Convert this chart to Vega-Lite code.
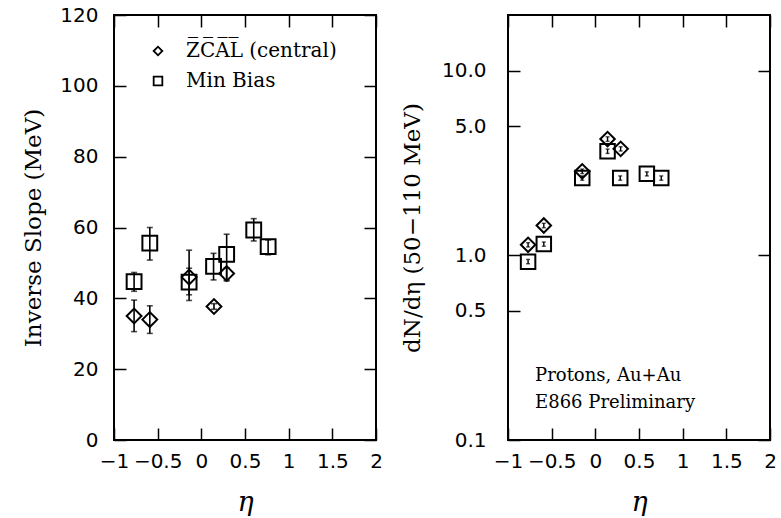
{
  "$schema": "https://vega.github.io/schema/vega-lite/v6.json",
  "background": "white",
  "padding": {"left": 21, "top": 4, "right": 0, "bottom": 0},
  "spacing": 16,
  "datasets": {
    "slope": [
      {"eta": -0.77, "val": 35.0, "lo": 30.6, "hi": 39.5, "series": "ZCAL"},
      {"eta": -0.59, "val": 34.0, "lo": 30.1, "hi": 37.9, "series": "ZCAL"},
      {"eta": -0.14, "val": 46.0, "lo": 39.4, "hi": 53.6, "series": "ZCAL"},
      {"eta": 0.145, "val": 37.7, "lo": 36.9, "hi": 38.5, "series": "ZCAL"},
      {"eta": 0.29, "val": 47.0, "lo": 45.2, "hi": 48.6, "series": "ZCAL"},
      {"eta": -0.77, "val": 44.7, "lo": 42.0, "hi": 47.3, "series": "Min Bias"},
      {"eta": -0.59, "val": 55.6, "lo": 50.8, "hi": 60.0, "series": "Min Bias"},
      {"eta": -0.14, "val": 44.6, "lo": 41.0, "hi": 48.5, "series": "Min Bias"},
      {"eta": 0.14, "val": 49.0, "lo": 45.2, "hi": 52.7, "series": "Min Bias"},
      {"eta": 0.29, "val": 52.4, "lo": 44.9, "hi": 58.1, "series": "Min Bias"},
      {"eta": 0.6, "val": 59.3, "lo": 56.2, "hi": 62.5, "series": "Min Bias"},
      {"eta": 0.765, "val": 54.6, "lo": 52.3, "hi": 56.5, "series": "Min Bias"}
    ],
    "dndeta": [
      {"eta": -0.77, "val": 1.14, "lo": 1.11, "hi": 1.17, "series": "ZCAL"},
      {"eta": -0.59, "val": 1.45, "lo": 1.41, "hi": 1.49, "series": "ZCAL"},
      {"eta": -0.15, "val": 2.85, "lo": 2.77, "hi": 2.93, "series": "ZCAL"},
      {"eta": 0.14, "val": 4.26, "lo": 4.14, "hi": 4.38, "series": "ZCAL"},
      {"eta": 0.29, "val": 3.77, "lo": 3.67, "hi": 3.87, "series": "ZCAL"},
      {"eta": -0.77, "val": 0.923, "lo": 0.9, "hi": 0.95, "series": "Min Bias"},
      {"eta": -0.59, "val": 1.15, "lo": 1.12, "hi": 1.18, "series": "Min Bias"},
      {"eta": -0.15, "val": 2.62, "lo": 2.55, "hi": 2.69, "series": "Min Bias"},
      {"eta": 0.14, "val": 3.66, "lo": 3.56, "hi": 3.76, "series": "Min Bias"},
      {"eta": 0.285, "val": 2.62, "lo": 2.55, "hi": 2.69, "series": "Min Bias"},
      {"eta": 0.59, "val": 2.76, "lo": 2.69, "hi": 2.83, "series": "Min Bias"},
      {"eta": 0.755, "val": 2.62, "lo": 2.55, "hi": 2.69, "series": "Min Bias"}
    ]
  },
  "resolve": {"scale": {"shape": "independent"}, "legend": {"shape": "independent"}},
  "hconcat": [
    {
      "width": 262,
      "height": 425,
      "data": {"name": "slope"},
      "resolve": {"axis": {"x": "independent", "y": "independent"}},
      "layer": [
        {
          "mark": {"type": "errorbar", "color": "black", "thickness": 1.6, "ticks": {"size": 6, "thickness": 1.6}},
          "encoding": {
            "x": {
              "field": "eta", "type": "quantitative",
              "scale": {"domain": [-1, 2], "nice": false, "zero": false},
              "axis": {
                "orient": "bottom",
                "values": [-1, -0.5, 0, 0.5, 1, 1.5, 2],
                "tickSize": 12, "offset": -12,
                "labelExpr": "format(datum.value, '')",
                "labelPadding": 11,
                "labelFlush": false,
                "labelOverlap": false,
                "title": "η",
                "titleFont": "DejaVu Serif",
                "titleFontStyle": "italic",
                "titleFontSize": 27,
                "titlePadding": 18
              }
            },
            "y": {
              "field": "lo", "type": "quantitative",
              "scale": {"domain": [0, 120], "nice": false},
              "axis": {
                "orient": "left",
                "values": [0, 20, 40, 60, 80, 100, 120],
                "tickSize": 12, "offset": -12,
                "labelExpr": "'' + datum.value",
                "labelPadding": 16,
                "labelFlush": false,
                "labelOverlap": false,
                "title": "Inverse Slope (MeV)",
                "titleFontSize": 23,
                "titlePadding": 14
              }
            },
            "y2": {"field": "hi"}
          }
        },
        {
          "mark": {"type": "point", "filled": false, "stroke": "black", "strokeWidth": 2, "size": 220, "opacity": 1},
          "encoding": {
            "x": {
              "field": "eta", "type": "quantitative",
              "axis": {"orient": "top", "values": [-1, -0.5, 0, 0.5, 1, 1.5, 2], "tickSize": 12, "offset": -12, "labels": false, "title": null}
            },
            "y": {
              "field": "val", "type": "quantitative",
              "axis": {"orient": "right", "values": [0, 20, 40, 60, 80, 100, 120], "tickSize": 12, "offset": -12, "labels": false, "title": null}
            },
            "shape": {
              "field": "series", "type": "nominal",
              "scale": {"domain": ["ZCAL", "Min Bias"], "range": ["diamond", "square"]},
              "legend": {
                "orient": "none",
                "legendX": 34,
                "legendY": 26,
                "title": null,
                "labelFont": "DejaVu Serif",
                "labelFontSize": 20,
                "labelColor": "black",
                "labelOffset": 18,
                "symbolSize": 75,
                "symbolStrokeWidth": 1.8,
                "symbolStrokeColor": "black",
                "symbolFillColor": "transparent",
                "rowPadding": 10,
                "labelExpr": "datum.value == 'ZCAL' ? 'Z̅C̅A̅L̅ (central)' : datum.value"
              }
            }
          }
        }
      ]
    },
    {
      "width": 262,
      "height": 425,
      "data": {"name": "dndeta"},
      "resolve": {"axis": {"x": "independent", "y": "independent"}},
      "layer": [
        {
          "mark": {"type": "errorbar", "color": "black", "thickness": 1.4, "ticks": {"size": 4, "thickness": 1.4}},
          "encoding": {
            "x": {
              "field": "eta", "type": "quantitative",
              "scale": {"domain": [-1, 2], "nice": false, "zero": false},
              "axis": {
                "orient": "bottom",
                "values": [-1, -0.5, 0, 0.5, 1, 1.5, 2],
                "tickSize": 12, "offset": -12,
                "labelExpr": "format(datum.value, '')",
                "labelPadding": 11,
                "labelFlush": false,
                "labelOverlap": false,
                "title": "η",
                "titleFont": "DejaVu Serif",
                "titleFontStyle": "italic",
                "titleFontSize": 27,
                "titlePadding": 18
              }
            },
            "y": {
              "field": "lo", "type": "quantitative",
              "scale": {"type": "log", "domain": [0.1, 20], "nice": false},
              "axis": {
                "orient": "left",
                "values": [0.1, 0.5, 1, 5, 10],
                "tickSize": 12, "offset": -12,
                "labelExpr": "datum.value == 0.1 ? '0.1' : datum.value == 0.5 ? '0.5' : datum.value == 1 ? '1.0' : datum.value == 5 ? '5.0' : '10.0'",
                "labelPadding": 22,
                "labelFlush": false,
                "labelOverlap": false,
                "title": "dN/dη (50−110 MeV)",
                "titleFontSize": 23,
                "titlePadding": 17
              }
            },
            "y2": {"field": "hi"}
          }
        },
        {
          "mark": {"type": "point", "filled": false, "stroke": "black", "strokeWidth": 2, "size": 210, "opacity": 1},
          "encoding": {
            "x": {
              "field": "eta", "type": "quantitative",
              "axis": {"orient": "top", "values": [-1, -0.5, 0, 0.5, 1, 1.5, 2], "tickSize": 12, "offset": -12, "labels": false, "title": null}
            },
            "y": {
              "field": "val", "type": "quantitative",
              "axis": {"orient": "right", "values": [0.1, 1, 10], "tickSize": 12, "offset": -12, "labels": false, "title": null}
            },
            "shape": {
              "field": "series", "type": "nominal",
              "scale": {"domain": ["ZCAL", "Min Bias"], "range": ["diamond", "square"]},
              "legend": null
            }
          }
        },
        {
          "data": {"values": [{"note": "Protons, Au+Au"}]},
          "mark": {"type": "text", "text": ["Protons, Au+Au", "E866 Preliminary"], "font": "DejaVu Serif", "fontSize": 18, "align": "left", "baseline": "top", "lineHeight": 27, "color": "black"},
          "encoding": {
            "x": {"datum": -0.69, "type": "quantitative", "axis": null},
            "y": {"datum": 0.25, "type": "quantitative", "axis": null}
          }
        }
      ]
    }
  ],
  "config": {
    "view": {"stroke": "black", "strokeWidth": 2},
    "axis": {
      "domain": false,
      "grid": false,
      "ticks": true,
      "tickColor": "black",
      "tickWidth": 1.5,
      "labelFont": "DejaVu Sans",
      "labelFontSize": 20,
      "labelColor": "black",
      "titleFont": "DejaVu Serif",
      "titleFontWeight": "normal",
      "titleColor": "black"
    }
  }
}
